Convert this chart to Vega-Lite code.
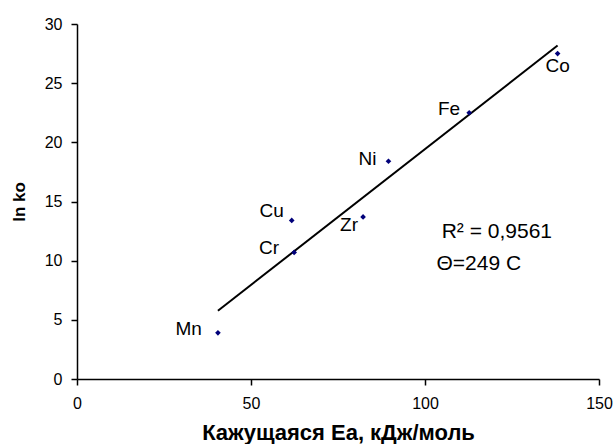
{
  "$schema": "https://vega.github.io/schema/vega-lite/v6.json",
  "width": 522,
  "height": 355,
  "autosize": {"type": "none"},
  "padding": {"left": 77, "top": 24, "right": 17, "bottom": 65},
  "background": "white",
  "config": {
    "view": {"stroke": null},
    "font": "Liberation Sans",
    "axis": {
      "grid": false,
      "labelFlush": false,
      "domainColor": "black",
      "domainWidth": 1.5,
      "tickColor": "black",
      "tickWidth": 1.5,
      "tickSize": 6,
      "labelFont": "Liberation Sans",
      "labelFontSize": 16,
      "labelColor": "black",
      "titleFont": "Liberation Sans",
      "titleFontWeight": "bold",
      "titleColor": "black"
    },
    "text": {"font": "Liberation Sans", "fontSize": 19, "color": "black"}
  },
  "datasets": {
    "metals": [
      {"metal": "Mn", "Ea": 40.5, "lnk0": 3.9},
      {"metal": "Cr", "Ea": 62.4, "lnk0": 10.7},
      {"metal": "Cu", "Ea": 61.7, "lnk0": 13.4},
      {"metal": "Zr", "Ea": 82.2, "lnk0": 13.7},
      {"metal": "Ni", "Ea": 89.5, "lnk0": 18.4},
      {"metal": "Fe", "Ea": 112.7, "lnk0": 22.5},
      {"metal": "Co", "Ea": 138.1, "lnk0": 27.5}
    ],
    "notes": [
      {"note": "R² = 0,9561", "Ea": 104.8, "lnk0": 12.45},
      {"note": "Θ=249 C", "Ea": 103.3, "lnk0": 9.72}
    ]
  },
  "data": {"name": "metals"},
  "encoding": {
    "x": {
      "field": "Ea",
      "type": "quantitative",
      "scale": {"domain": [0, 150], "nice": false},
      "axis": {"values": [0, 50, 100, 150], "title": "Кажущаяся Ea, кДж/моль", "titleFontSize": 22, "labelPadding": 10, "titlePadding": 11}
    },
    "y": {
      "field": "lnk0",
      "type": "quantitative",
      "scale": {"domain": [0, 30], "nice": false},
      "axis": {"values": [0, 5, 10, 15, 20, 25, 30], "title": "ln ko", "titleFontSize": 17, "labelPadding": 9, "titlePadding": 16}
    }
  },
  "layer": [
    {
      "transform": [{"regression": "lnk0", "on": "Ea"}],
      "mark": {"type": "line", "color": "black", "strokeWidth": 2},
      "encoding": {}
    },
    {
      "mark": {"type": "point", "shape": "diamond", "filled": true, "color": "#00007a", "size": 32, "opacity": 1}
    },
    {
      "transform": [{"filter": {"field": "metal", "equal": "Mn"}}],
      "mark": {"type": "text", "align": "right", "baseline": "middle", "dx": -16, "dy": -4},
      "encoding": {"text": {"field": "metal"}}
    },
    {
      "transform": [{"filter": {"field": "metal", "equal": "Cr"}}],
      "mark": {"type": "text", "align": "right", "baseline": "middle", "dx": -15, "dy": -4},
      "encoding": {"text": {"field": "metal"}}
    },
    {
      "transform": [{"filter": {"field": "metal", "equal": "Cu"}}],
      "mark": {"type": "text", "align": "right", "baseline": "middle", "dx": -8, "dy": -9},
      "encoding": {"text": {"field": "metal"}}
    },
    {
      "transform": [{"filter": {"field": "metal", "equal": "Zr"}}],
      "mark": {"type": "text", "align": "right", "baseline": "middle", "dx": -5, "dy": 8},
      "encoding": {"text": {"field": "metal"}}
    },
    {
      "transform": [{"filter": {"field": "metal", "equal": "Ni"}}],
      "mark": {"type": "text", "align": "right", "baseline": "middle", "dx": -12, "dy": -2},
      "encoding": {"text": {"field": "metal"}}
    },
    {
      "transform": [{"filter": {"field": "metal", "equal": "Fe"}}],
      "mark": {"type": "text", "align": "right", "baseline": "middle", "dx": -9, "dy": -4},
      "encoding": {"text": {"field": "metal"}}
    },
    {
      "transform": [{"filter": {"field": "metal", "equal": "Co"}}],
      "mark": {"type": "text", "align": "center", "baseline": "middle", "dy": 12},
      "encoding": {"text": {"field": "metal"}}
    },
    {
      "data": {"name": "notes"},
      "mark": {"type": "text", "align": "left", "baseline": "middle", "fontSize": 21},
      "encoding": {"text": {"field": "note"}}
    }
  ]
}
